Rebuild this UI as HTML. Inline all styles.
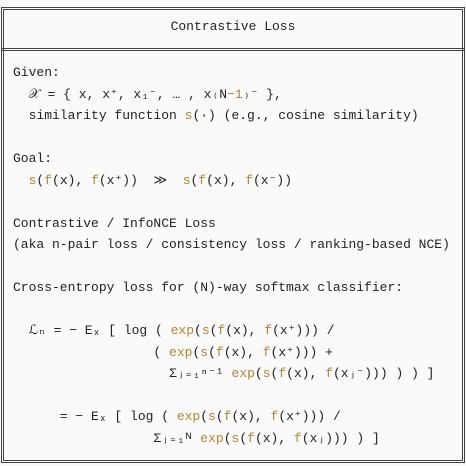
<!DOCTYPE html>
<html><head><style>
body{margin:0;width:466px;height:466px;background:#fafafa;overflow:hidden;position:relative;font-family:"Liberation Mono",monospace;font-size:13px;color:#222}
.o{color:#b5852a}
pre{margin:0;font:inherit;position:absolute;left:13px;top:62px;line-height:21.5px}
.t{position:absolute;top:19px;left:0;width:466px;text-align:center}
</style></head><body>
<svg width="466" height="466" style="position:absolute;left:0;top:0">
<g stroke="#444" stroke-width="1" fill="none">
<path d="M1.5 462.5 V7.5 H464.5 V462.5 H1.5 Z"/>
<path d="M3.5 460.5 V9.5 H462.5 V460.5 H3.5 Z"/>
<line x1="2" y1="48.5" x2="464" y2="48.5"/>
<line x1="2" y1="50.5" x2="464" y2="50.5"/>
</g></svg>
<div class="t">Contrastive Loss</div>
<pre>Given:
  𝒳 = { x, x⁺, x₁⁻, … , x₍N<span class="o">−1</span>₎⁻ },
  similarity function <span class="o">s</span>(·) (e.g., cosine similarity)

Goal:
  <span class="o">s</span>(<span class="o">f</span>(x), <span class="o">f</span>(x⁺))  ≫  <span class="o">s</span>(<span class="o">f</span>(x), <span class="o">f</span>(x⁻))

Contrastive / InfoNCE Loss
(aka n-pair loss / consistency loss / ranking-based NCE)

Cross-entropy loss for (N)-way softmax classifier:

  ℒₙ = − Eₓ [ log ( <span class="o">exp</span>(<span class="o">s</span>(<span class="o">f</span>(x), <span class="o">f</span>(x⁺))) /
                  ( <span class="o">exp</span>(<span class="o">s</span>(<span class="o">f</span>(x), <span class="o">f</span>(x⁺))) +
                    Σⱼ₌₁ⁿ⁻¹ <span class="o">exp</span>(<span class="o">s</span>(<span class="o">f</span>(x), <span class="o">f</span>(xⱼ⁻))) ) ) ]

      = − Eₓ [ log ( <span class="o">exp</span>(<span class="o">s</span>(<span class="o">f</span>(x), <span class="o">f</span>(x⁺))) /
                  Σⱼ₌₁ᴺ <span class="o">exp</span>(<span class="o">s</span>(<span class="o">f</span>(x), <span class="o">f</span>(xⱼ))) ) ]
</pre>
</body></html>
